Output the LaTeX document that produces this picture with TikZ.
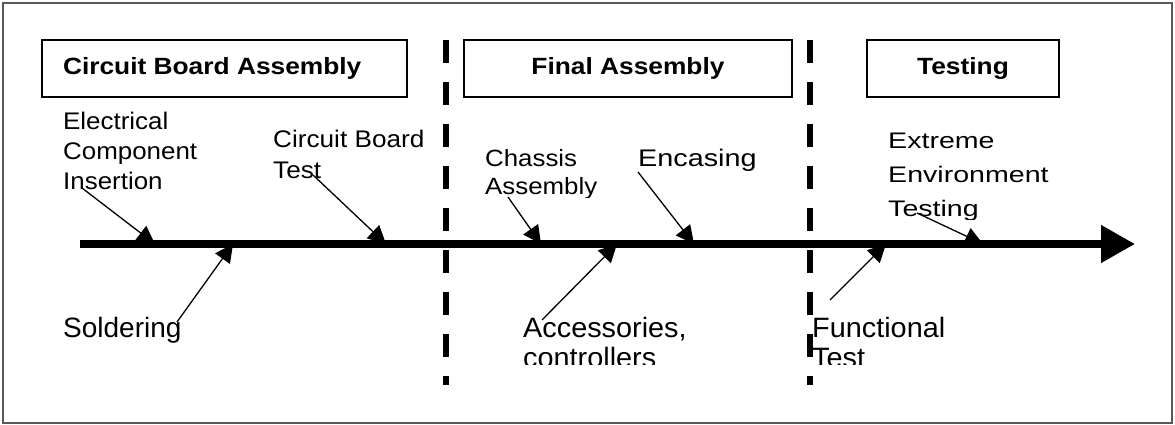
\documentclass[tikz,border=0pt]{standalone}
\usepackage{fontspec}
\usepackage{graphicx}
\setmainfont{Liberation Sans}
\usetikzlibrary{arrows.meta}

% stretched multi-line label: #1 horizontal stretch, #2 font size, #3 line spacing, #4 lines
\newcommand\lbl[4]{\scalebox{#1}[1]{\fontsize{#2}{#3}\selectfont\begin{tabular}[t]{@{}l@{}}#4\end{tabular}}}
% bold stage title
\newcommand\stagetitle[1]{\scalebox{1.12}[1]{\fontsize{23.5}{28}\selectfont\bfseries #1}}

\tikzset{
  lab/.style={inner sep=0pt, anchor=base west},
  stagebox/.style={draw=black, line width=1.3pt, inner sep=0pt, minimum height=57pt},
  spine/.style={line width=7.5pt, -{Triangle[length=34pt,width=36pt]}},
  feeder/.style={line width=1.3pt, -{Triangle[length=18pt,width=18pt]}},
  divider/.style={line width=6.5pt, dash pattern=on 23pt off 19pt},
  frame/.style={draw=black!65, line width=1.2pt}
}

\begin{document}
\begin{tikzpicture}[x=1pt,y=-1pt]
\useasboundingbox (0,0) rectangle (1175,425);
\draw[frame] (3,3) rectangle (1172,423);

% stage headers
\node[stagebox, minimum width=365pt] (cba) at (224.5,68.5)
  {\makebox[323pt][l]{\stagetitle{Circuit Board Assembly}}};
\node[stagebox, minimum width=328pt] (fa) at (628,68.5) {\stagetitle{Final Assembly}};
\node[stagebox, minimum width=192pt] (tst) at (963,68.5) {\stagetitle{Testing}};

% stage dividers
\coordinate (d1t) at (446,40); \coordinate (d1b) at (446,385);
\coordinate (d2t) at (810,40); \coordinate (d2b) at (810,385);
\draw[divider] (d1t) -- (d1b);
\draw[divider] (d2t) -- (d2b);

% process labels (some text boxes cut off their last line)
\node[lab] (eci) at (63,130) {\lbl{1.08}{24}{30}{Electrical\\Component\\Insertion}};
\node[lab] (cbt) at (273,148) {\lbl{1.09}{24}{30}{Circuit Board\\Test}};
\begin{scope}
  \clip (470,120) rectangle (620,197);
  \node[lab] (cha) at (485,167) {\lbl{1.1}{23.5}{28}{Chassis\\Assembly}};
\end{scope}
\node[lab] (enc) at (638,167) {\lbl{1.2}{24}{30}{Encasing}};
\begin{scope}
  \clip (870,110) rectangle (1100,219);
  \node[lab] (ext) at (888,149) {\lbl{1.27}{22.5}{34}{Extreme\\Environment\\Testing}};
\end{scope}
\node[lab] (sol) at (63,337) {\lbl{1.0}{28}{31}{Soldering}};
\begin{scope}
  \clip (500,300) rectangle (720,364.5);
  \node[lab] (acc) at (523,337) {\lbl{1.03}{28}{30}{Accessories,\\controllers}};
\end{scope}
\begin{scope}
  \clip (800,300) rectangle (1000,364.5);
  \node[lab] (fun) at (812,337) {\lbl{1.03}{28}{30}{Functional\\Test}};
\end{scope}

% main flow
\coordinate (s0) at (80,244);
\coordinate (s1) at (1135,244);
\draw[spine] (s0) -- (s1);

% feeder arrows
\coordinate (a1s) at (82,188);  \coordinate (a1e) at (155,244);
\coordinate (a2s) at (313,175); \coordinate (a2e) at (386,244);
\coordinate (a3s) at (177,322); \coordinate (a3e) at (233,244);
\coordinate (a4s) at (508,197); \coordinate (a4e) at (541,244);
\coordinate (a5s) at (542,320); \coordinate (a5e) at (617,244);
\coordinate (a6s) at (638,172); \coordinate (a6e) at (694,244);
\coordinate (a7s) at (830,300); \coordinate (a7e) at (886,244);
\coordinate (a8s) at (917,213); \coordinate (a8e) at (983,244);
\foreach \i in {1,...,8} \draw[feeder] (a\i s) -- (a\i e);
\end{tikzpicture}
\end{document}
